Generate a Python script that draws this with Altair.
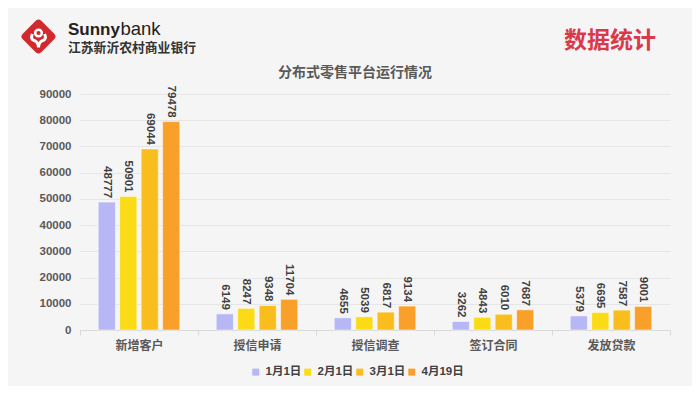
import altair as alt
import pandas as pd

categories = ["新增客户", "授信申请", "授信调查", "签订合同", "发放贷款"]
dates = ["1月1日", "2月1日", "3月1日", "4月19日"]
v_jan1 = [48777, 6149, 4655, 3262, 5379]
v_feb1 = [50901, 8247, 5039, 4843, 6695]
v_mar1 = [69044, 9348, 6817, 6010, 7587]
v_apr19 = [79478, 11704, 9134, 7687, 9001]
y_ticks = [0, 10000, 20000, 30000, 40000, 50000, 60000, 70000, 80000, 90000]
colors = ["#b6b7f4", "#fbdb16", "#f9be1e", "#f9a02b"]

series = [v_jan1, v_feb1, v_mar1, v_apr19]
rows = []
for d, vals in zip(dates, series):
    for c, v in zip(categories, vals):
        rows.append({"cat": c, "date": d, "value": v})
df = pd.DataFrame(rows)

FONT = "Liberation Sans, Noto Sans CJK SC, sans-serif"
GREY = "#595959"
DARK = "#404040"

x_enc = alt.X("cat:N", sort=categories,
              scale=alt.Scale(paddingInner=0, paddingOuter=0),
              axis=alt.Axis(title=None, labelAngle=0, labelFont=FONT, labelFontSize=12,
                            labelFontWeight="bold", labelColor=GREY, labelPadding=5,
                            domainColor="#d9d9d9", tickColor="#d9d9d9", tickSize=5,
                            tickBand="extent", grid=False))
xo_enc = alt.XOffset("date:N", sort=dates,
                     scale=alt.Scale(paddingInner=0.2, paddingOuter=0.85))
y_enc = alt.Y("value:Q", scale=alt.Scale(domain=[0, 90000], nice=False),
              axis=alt.Axis(title=None, values=y_ticks, format="d", labelOverlap=False,
                            labelFont=FONT, labelFontSize=11.5,
                            labelFontWeight="bold", labelColor=GREY, labelPadding=9,
                            domain=False, ticks=False, gridColor="#e6e6e6", gridWidth=1))

base = alt.Chart(df)

bars = base.mark_bar(stroke="white", strokeOpacity=0.5, strokeWidth=1).encode(
    x=x_enc, xOffset=xo_enc, y=y_enc,
    color=alt.Color("date:N", sort=dates,
                    scale=alt.Scale(domain=dates, range=colors),
                    legend=alt.Legend(title=None, orient="none", legendX=170, legendY=272,
                                      direction="horizontal", symbolType="square",
                                      symbolSize=49, symbolStrokeWidth=0, labelFont=FONT,
                                      labelFontSize=11.5, labelFontWeight="bold",
                                      labelColor=DARK, labelOffset=4, columnPadding=0,
                                      padding=0)),
)

labels = base.mark_text(angle=90, align="right", baseline="middle", dx=-4,
                        font=FONT, fontSize=11.5, fontWeight="bold", color=DARK).encode(
    x=x_enc, xOffset=xo_enc, y=y_enc, text=alt.Text("value:Q", format="d"),
)

deco = pd.DataFrame({"k": [0]})
dbase = alt.Chart(deco)

title = dbase.mark_text(text="分布式零售平台运行情况", font=FONT, fontSize=14, fontWeight="bold",
                        color=GREY, align="center", baseline="middle").encode(
    x=alt.value(275), y=alt.value(-21))

stat = dbase.mark_text(text="数据统计", font=FONT, fontSize=23, fontWeight="bold",
                       color="#d83a4a", align="center", baseline="middle").encode(
    x=alt.value(530), y=alt.value(-53))

sunny = dbase.mark_text(text="Sunny", font=FONT, fontSize=17, fontWeight="bold",
                        color="#222222", align="left", baseline="alphabetic").encode(
    x=alt.value(-12), y=alt.value(-59))
bank = dbase.mark_text(text="bank", font=FONT, fontSize=18.5, fontWeight="normal",
                       color="#222222", align="left", baseline="alphabetic").encode(
    x=alt.value(40.5), y=alt.value(-59))
bank_cn = dbase.mark_text(text="江苏新沂农村商业银行", font=FONT, fontSize=12.8, fontWeight="bold",
                          color="#333333", align="left", baseline="middle").encode(
    x=alt.value(-12), y=alt.value(-46.5))

diamond_path = ("M-0.15,-0.85 Q0,-1 0.15,-0.85 L0.85,-0.15 Q1,0 0.85,0.15 "
                "L0.15,0.85 Q0,1 -0.15,0.85 L-0.85,0.15 Q-1,0 -0.85,-0.15 Z")
logo = dbase.mark_point(shape=diamond_path, filled=True, color="#d12a2e", size=1369,
                        opacity=1).encode(x=alt.value(-41.5), y=alt.value(-57.5))
hands_path = ("M-0.55,-0.45 Q-0.75,0.05 -0.35,0.15 Q-0.05,0.25 0,0.75 "
              "M0.55,-0.45 Q0.75,0.05 0.35,0.15 Q0.05,0.25 0,0.75")
hands = dbase.mark_point(shape=hands_path, filled=False, stroke="white", strokeWidth=3,
                         size=500, opacity=1).encode(x=alt.value(-41.5), y=alt.value(-55))
ring = dbase.mark_point(shape="circle", filled=False, stroke="white", strokeWidth=2.5,
                        size=45, opacity=1).encode(x=alt.value(-41.5), y=alt.value(-61))

chart = alt.layer(bars, labels, title, stat, sunny, bank, bank_cn, logo, hands, ring).properties(
    width=590, height=236,
    padding={"left": 72, "top": 86, "right": 22, "bottom": 56},
    autosize=alt.AutoSizeParams(type="none"),
    background="#f5f5f5",
).configure_view(stroke=None)

chart.save("out.html", embed_options={"renderer": "svg", "actions": False})
